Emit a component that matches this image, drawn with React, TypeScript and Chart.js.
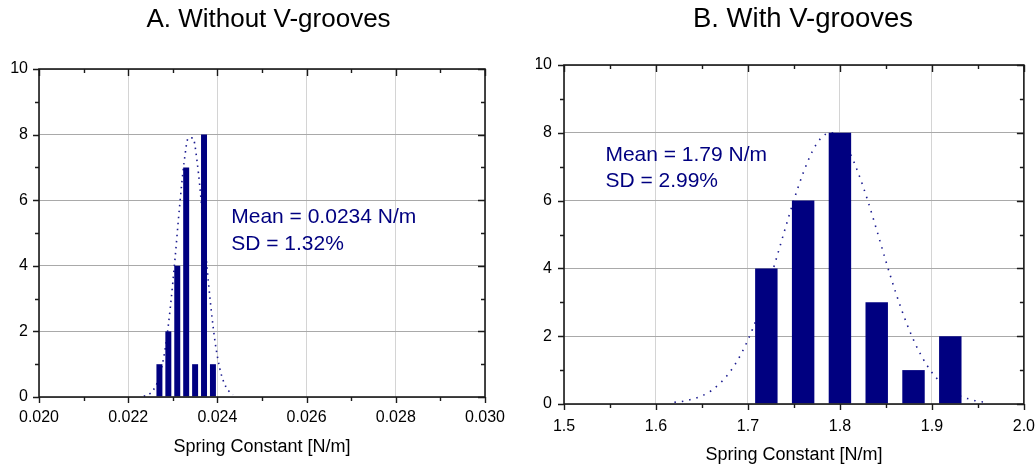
import React, { useEffect, useRef } from 'react';
import { Chart, registerables } from 'chart.js';

Chart.register(...registerables);

const FONT = "'Liberation Sans', Arial, Helvetica, sans-serif";

// ---------- text ----------
const leftTitle = 'A. Without V-grooves';
const rightTitle = 'B. With V-grooves';
const xAxisTitle = 'Spring Constant [N/m]';
const leftNote = ['Mean = 0.0234 N/m', 'SD = 1.32%'];
const rightNote = ['Mean = 1.79 N/m', 'SD = 2.99%'];

// ---------- panel A data ----------
const leftBins = [0.0227, 0.0229, 0.0231, 0.0233, 0.0235, 0.0237, 0.0239];
const leftCounts = [1, 2, 4, 7, 1, 8, 1];
const leftFitX = [
  0.02235, 0.02245, 0.02255, 0.02265, 0.02275, 0.02285, 0.02295, 0.02305, 0.02315, 0.02325, 0.02335,
  0.02345, 0.02355, 0.02365, 0.02375, 0.02385, 0.02395, 0.02405, 0.02415, 0.02425, 0.02435,
];
const leftFitY = [
  0.03, 0.07, 0.19, 0.43, 0.89, 1.66, 2.8, 4.22, 5.78, 7.12, 7.9,
  7.9, 7.12, 5.78, 4.22, 2.8, 1.66, 0.89, 0.43, 0.19, 0.07,
];
const leftXMin = 0.02;
const leftXMax = 0.03;
const leftXStep = 0.001;
const leftNoteAt = [0.02431, 5.47];

// ---------- panel B data ----------
const rightBins = [1.72, 1.76, 1.8, 1.84, 1.88, 1.92];
const rightCounts = [4, 6, 8, 3, 1, 2];
const rightFitX = [
  1.62, 1.63, 1.64, 1.65, 1.66, 1.67, 1.68, 1.69, 1.7, 1.71, 1.72, 1.73, 1.74, 1.75, 1.76, 1.77, 1.78,
  1.79, 1.8, 1.81, 1.82, 1.83, 1.84, 1.85, 1.86, 1.87, 1.88, 1.89, 1.9, 1.91, 1.92, 1.93, 1.94, 1.95, 1.96,
];
const rightFitY = [
  0.05, 0.08, 0.15, 0.24, 0.39, 0.62, 0.93, 1.35, 1.89, 2.56, 3.34, 4.21, 5.13, 6.02, 6.81, 7.45, 7.86,
  8.0, 7.86, 7.45, 6.81, 6.02, 5.13, 4.21, 3.34, 2.56, 1.89, 1.35, 0.93, 0.62, 0.39, 0.24, 0.15, 0.08, 0.05,
];
const rightXMin = 1.5;
const rightXMax = 2.0;
const rightXStep = 0.05;
const rightNoteAt = [1.545, 7.34];

const yMin = 0;
const yMax = 10;
const yStep = 1;

// ---------- title / frame / ticks / note plugin ----------
const framePlugin = {
  id: 'frame',
  afterDraw(chart: any, _args: any, o: any) {
    const { ctx, chartArea: a, scales } = chart;
    const x = scales.x;
    const y = scales.y;
    ctx.save();
    ctx.strokeStyle = '#1a1a1a';
    ctx.lineWidth = 1.4;
    ctx.beginPath();
    x.ticks.forEach((_t: any, i: number) => {
      const px = Math.round(x.getPixelForTick(i)) + 0.5;
      const major = i % 2 === 0;
      ctx.moveTo(px, a.bottom);
      ctx.lineTo(px, a.bottom + (major ? 6 : 4));
      ctx.moveTo(px, a.top);
      ctx.lineTo(px, a.top + (major ? 7 : 4));
    });
    y.ticks.forEach((_t: any, i: number) => {
      const py = Math.round(y.getPixelForTick(i)) + 0.5;
      const major = i % 2 === 0;
      ctx.moveTo(a.left, py);
      ctx.lineTo(a.left - (major ? 6 : 4), py);
      ctx.moveTo(a.right, py);
      ctx.lineTo(a.right - (major ? 7 : 4), py);
    });
    ctx.stroke();
    ctx.lineWidth = 1.6;
    ctx.strokeRect(a.left, a.top, a.right - a.left, a.bottom - a.top);

    // statistics note
    ctx.fillStyle = '#000080';
    ctx.font = `21px ${FONT}`;
    ctx.textAlign = 'left';
    ctx.textBaseline = 'middle';
    const nx = x.getPixelForValue(o.at[0]);
    const ny = y.getPixelForValue(o.at[1]);
    o.lines.forEach((line: string, i: number) => ctx.fillText(line, nx, ny + i * o.gap));

    // panel title
    ctx.fillStyle = '#000';
    ctx.font = `${o.titleSize}px ${FONT}`;
    ctx.textAlign = 'center';
    ctx.fillText(o.title, o.titleX, o.titleY);
    ctx.restore();
  },
};

type PanelProps = {
  left: number;
  width: number;
  title: string;
  titleSize: number;
  titleX: number;
  titleY: number;
  bins: number[];
  counts: number[];
  fitX: number[];
  fitY: number[];
  xMin: number;
  xMax: number;
  xStep: number;
  decimals: number;
  barPct: number;
  dash: number[];
  padding: { left: number; right: number; top: number; bottom: number };
  yAxisW: number;
  xAxisH: number;
  xTickPad: number;
  yTickPad: number;
  xTitlePad: number;
  note: string[];
  noteAt: number[];
  noteGap: number;
};

function Panel(p: PanelProps) {
  const ref = useRef<HTMLCanvasElement>(null);
  useEffect(() => {
    if (!ref.current) return;
    const chart = new Chart(ref.current, {
      type: 'bar',
      data: {
        datasets: [
          {
            type: 'bar',
            data: p.bins.map((b, i) => ({ x: b, y: p.counts[i] })),
            backgroundColor: '#000080',
            borderWidth: 0,
            barPercentage: p.barPct,
            categoryPercentage: 1,
            order: 1,
          } as any,
          {
            type: 'line',
            data: p.fitX.map((v, i) => ({ x: v, y: p.fitY[i] })),
            borderColor: '#1c1c90',
            borderWidth: 1.6,
            borderDash: p.dash,
            pointRadius: 0,
            fill: false,
            tension: 0.4,
            cubicInterpolationMode: 'monotone',
            order: 2,
          } as any,
        ],
      },
      options: {
        responsive: false,
        animation: false,
        devicePixelRatio: 1,
        layout: { padding: p.padding },
        plugins: {
          legend: { display: false },
          tooltip: { enabled: false },
          title: { display: false },
          frame: {
            lines: p.note,
            at: p.noteAt,
            gap: p.noteGap,
            title: p.title,
            titleSize: p.titleSize,
            titleX: p.titleX,
            titleY: p.titleY,
          },
        } as any,
        scales: {
          x: {
            type: 'linear',
            min: p.xMin,
            max: p.xMax,
            offset: false,
            ticks: {
              stepSize: p.xStep,
              autoSkip: false,
              maxRotation: 0,
              color: '#000',
              font: { family: FONT, size: 16 },
              padding: p.xTickPad,
              callback: (v: any, i: number) => (i % 2 === 0 ? Number(v).toFixed(p.decimals) : ''),
            },
            grid: {
              offset: false,
              drawTicks: false,
              lineWidth: 1,
              color: (c: any) => (c.index % 2 === 0 ? '#d4d4d4' : 'rgba(0,0,0,0)'),
            },
            border: { display: false },
            title: {
              display: true,
              text: xAxisTitle,
              color: '#000',
              font: { family: FONT, size: 18 },
              padding: { top: 0, bottom: p.xTitlePad },
            },
            afterFit: (s: any) => {
              s.height = p.xAxisH;
            },
          },
          y: {
            type: 'linear',
            min: yMin,
            max: yMax,
            ticks: {
              stepSize: yStep,
              autoSkip: false,
              color: '#000',
              font: { family: FONT, size: 16 },
              padding: p.yTickPad,
              callback: (v: any, i: number) => (i % 2 === 0 ? String(Math.round(Number(v))) : ''),
            },
            grid: {
              drawTicks: false,
              lineWidth: 1,
              color: (c: any) => (c.index % 2 === 0 ? '#a9a9a9' : 'rgba(0,0,0,0)'),
            },
            border: { display: false },
            afterFit: (s: any) => {
              s.width = p.yAxisW;
            },
          },
        } as any,
      },
      plugins: [framePlugin],
    });
    return () => chart.destroy();
  }, []);
  return (
    <canvas
      ref={ref}
      width={p.width}
      height={466}
      style={{ position: 'absolute', left: p.left, top: 0, width: p.width, height: 466 }}
    />
  );
}

export default function App() {
  return (
    <div
      style={{
        position: 'fixed',
        left: 0,
        top: 0,
        width: 1036,
        height: 466,
        overflow: 'hidden',
        background: '#fff',
      }}
    >
      <Panel
        left={0}
        width={518}
        title={leftTitle}
        titleSize={26}
        titleX={268.5}
        titleY={19.6}
        bins={leftBins}
        counts={leftCounts}
        fitX={leftFitX}
        fitY={leftFitY}
        xMin={leftXMin}
        xMax={leftXMax}
        xStep={leftXStep}
        decimals={3}
        barPct={0.67}
        dash={[1.5, 4.5]}
        padding={{ left: 9, right: 33, top: 69, bottom: 0 }}
        yAxisW={30}
        xAxisH={69}
        xTickPad={11}
        yTickPad={11}
        xTitlePad={8}
        note={leftNote}
        noteAt={leftNoteAt}
        noteGap={26.7}
      />
      <Panel
        left={518}
        width={530}
        title={rightTitle}
        titleSize={27.5}
        titleX={285}
        titleY={19.6}
        bins={rightBins}
        counts={rightCounts}
        fitX={rightFitX}
        fitY={rightFitY}
        xMin={rightXMin}
        xMax={rightXMax}
        xStep={rightXStep}
        decimals={1}
        barPct={0.61}
        dash={[1.5, 6]}
        padding={{ left: 18, right: 23, top: 65, bottom: 0 }}
        yAxisW={28}
        xAxisH={62}
        xTickPad={13}
        yTickPad={12}
        xTitlePad={0}
        note={rightNote}
        noteAt={rightNoteAt}
        noteGap={26}
      />
    </div>
  );
}
